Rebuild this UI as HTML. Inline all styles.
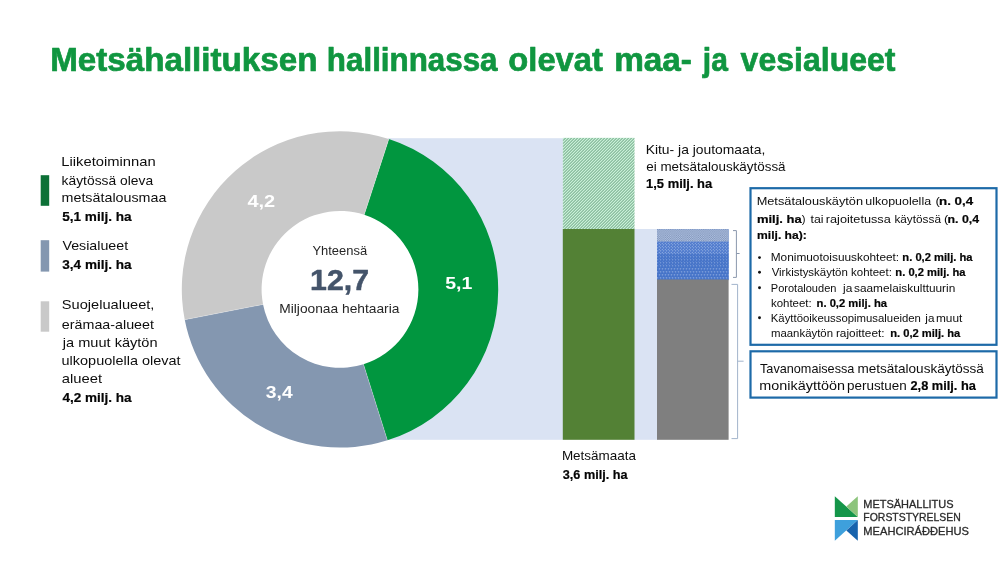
<!DOCTYPE html>
<html><head><meta charset="utf-8"><title>Metsähallitus</title>
<style>
html,body{margin:0;padding:0;background:#fff;}
body{width:1000px;height:563px;overflow:hidden;font-family:"Liberation Sans",sans-serif;}
svg{display:block;will-change:transform;opacity:0.999;font-family:"Liberation Sans",sans-serif;}
</style></head><body>
<svg width="1000" height="563" viewBox="0 0 1000 563">
<defs>
<pattern id="d1" width="2.2" height="2.2" patternUnits="userSpaceOnUse" x="657" y="229.2">
<rect width="2.2" height="2.2" fill="#b2c5e5"/><rect x="0" y="0" width="1.1" height="1.1" fill="#7f92b6"/><rect x="1.1" y="1.1" width="1.1" height="1.1" fill="#7f92b6"/>
</pattern>
<pattern id="d2" width="3" height="3" patternUnits="userSpaceOnUse" x="657" y="229.2">
<rect width="3" height="3" fill="#4a77cc"/><circle cx="0.75" cy="0.75" r="0.52" fill="#d4e0f7"/><circle cx="2.25" cy="2.25" r="0.52" fill="#d4e0f7"/>
</pattern>
<pattern id="d3" width="3" height="3" patternUnits="userSpaceOnUse" x="657" y="229.2">
<rect width="3" height="3" fill="#4573c8"/><circle cx="0.75" cy="0.75" r="0.48" fill="#d4e0f7"/><circle cx="2.25" cy="2.25" r="0.3" fill="#b5c9f0"/>
</pattern>
<pattern id="d4" width="3" height="6" patternUnits="userSpaceOnUse" x="657" y="229.2">
<rect width="3" height="6" fill="#4573c8"/><circle cx="0.75" cy="0.75" r="0.5" fill="#d4e0f7"/><circle cx="2.25" cy="3.75" r="0.5" fill="#d4e0f7"/><circle cx="2.25" cy="0.75" r="0.25" fill="#9db7ea"/><circle cx="0.75" cy="3.75" r="0.25" fill="#9db7ea"/>
</pattern>
</defs>
<rect width="1000" height="563" fill="#ffffff"/>
<rect x="388" y="138.2" width="175" height="301.6" fill="#dae3f3"/>
<rect x="634" y="229" width="23.5" height="210.8" fill="#dae3f3"/>
<clipPath id="hc"><rect x="562.8" y="137.8" width="71.7" height="91.4"/></clipPath>
<rect x="562.8" y="137.8" width="71.7" height="91.4" fill="#c9f0d8"/>
<path clip-path="url(#hc)" d="M562.80,137.80 L562.80,137.80 M562.80,140.80 L565.80,137.80 M562.80,143.80 L568.80,137.80 M562.80,146.80 L571.80,137.80 M562.80,149.80 L574.80,137.80 M562.80,152.80 L577.80,137.80 M562.80,155.80 L580.80,137.80 M562.80,158.80 L583.80,137.80 M562.80,161.80 L586.80,137.80 M562.80,164.80 L589.80,137.80 M562.80,167.80 L592.80,137.80 M562.80,170.80 L595.80,137.80 M562.80,173.80 L598.80,137.80 M562.80,176.80 L601.80,137.80 M562.80,179.80 L604.80,137.80 M562.80,182.80 L607.80,137.80 M562.80,185.80 L610.80,137.80 M562.80,188.80 L613.80,137.80 M562.80,191.80 L616.80,137.80 M562.80,194.80 L619.80,137.80 M562.80,197.80 L622.80,137.80 M562.80,200.80 L625.80,137.80 M562.80,203.80 L628.80,137.80 M562.80,206.80 L631.80,137.80 M562.80,209.80 L634.80,137.80 M562.80,212.80 L637.80,137.80 M562.80,215.80 L640.80,137.80 M562.80,218.80 L643.80,137.80 M562.80,221.80 L646.80,137.80 M562.80,224.80 L649.80,137.80 M562.80,227.80 L652.80,137.80 M562.80,230.80 L655.80,137.80 M562.80,233.80 L658.80,137.80 M562.80,236.80 L661.80,137.80 M562.80,239.80 L664.80,137.80 M562.80,242.80 L667.80,137.80 M562.80,245.80 L670.80,137.80 M562.80,248.80 L673.80,137.80 M562.80,251.80 L676.80,137.80 M562.80,254.80 L679.80,137.80 M562.80,257.80 L682.80,137.80 M562.80,260.80 L685.80,137.80 M562.80,263.80 L688.80,137.80 M562.80,266.80 L691.80,137.80 M562.80,269.80 L694.80,137.80 M562.80,272.80 L697.80,137.80 M562.80,275.80 L700.80,137.80 M562.80,278.80 L703.80,137.80 M562.80,281.80 L706.80,137.80 M562.80,284.80 L709.80,137.80 M562.80,287.80 L712.80,137.80 M562.80,290.80 L715.80,137.80 M562.80,293.80 L718.80,137.80 M562.80,296.80 L721.80,137.80 M562.80,299.80 L724.80,137.80 M562.80,302.80 L727.80,137.80" fill="none" stroke="#3f7f56" stroke-width="0.72"/>
<rect x="562.8" y="229" width="71.7" height="210.8" fill="#538135"/>
<rect x="657" y="229.2" width="71.6" height="51" fill="#4f7bcb"/>
<rect x="657" y="229.2" width="71.6" height="12.6" fill="url(#d1)"/>
<rect x="657" y="241.7" width="71.6" height="12.6" fill="url(#d2)"/>
<rect x="657" y="254.2" width="71.6" height="12.6" fill="url(#d3)"/>
<rect x="657" y="266.7" width="71.6" height="13.0" fill="url(#d4)"/>
<rect x="657" y="279.5" width="71.6" height="160.3" fill="#7f7f7f"/>
<circle cx="340.0" cy="289.4" r="78.9" fill="#ffffff"/>
<path d="M388.89,138.94 A158.2,158.2 0 0 1 387.40,440.33 L363.49,364.20 A78.4,78.4 0 0 0 364.23,214.84 Z" fill="#00963f"/>
<path d="M387.40,440.33 A158.2,158.2 0 0 1 184.74,319.74 L263.05,304.43 A78.4,78.4 0 0 0 363.49,364.20 Z" fill="#8497b0"/>
<path d="M184.74,319.74 A158.2,158.2 0 0 1 388.89,138.94 L364.23,214.84 A78.4,78.4 0 0 0 263.05,304.43 Z" fill="#c9c9c9"/>
<line x1="364.23" y1="214.84" x2="388.89" y2="138.94" stroke="#ffffff" stroke-width="0.7" stroke-opacity="0.35"/>
<line x1="363.49" y1="364.20" x2="387.40" y2="440.33" stroke="#ffffff" stroke-width="0.7" stroke-opacity="0.35"/>
<line x1="263.05" y1="304.43" x2="184.74" y2="319.74" stroke="#ffffff" stroke-width="0.7" stroke-opacity="0.35"/>
<rect x="40.7" y="175.2" width="8.5" height="30.6" fill="#0c7036"/>
<rect x="40.7" y="240.2" width="8.5" height="31.4" fill="#8497b0"/>
<rect x="40.7" y="301.3" width="8.5" height="30.4" fill="#c9c9c9"/>
<path d="M733,230.6 H736.4 V277.4 H733 M736.4,253.5 H739.6" fill="none" stroke="#8a97ad" stroke-width="1"/>
<path d="M731.5,284.4 H737.6 V438.6 H731.5 M737.6,361.2 H743.6" fill="none" stroke="#a3b4cc" stroke-width="1"/>
<rect x="750.5" y="188.2" width="246.0" height="156.6" fill="#ffffff" stroke="#1d6aa8" stroke-width="2.2"/>
<rect x="750.5" y="351.3" width="246.0" height="46.3" fill="#ffffff" stroke="#1d6aa8" stroke-width="2.2"/>
<polygon points="834.8,496.2 857.8,516.9 834.8,516.9" fill="#15964a"/>
<polygon points="857.8,496.2 857.8,516.9 846.3,506.5" fill="#8cc47c"/>
<polygon points="834.8,520 857.8,520 834.8,540.8" fill="#3ea0dc"/>
<polygon points="857.8,520 857.8,540.8 846.3,530.4" fill="#1763ad"/>
<circle cx="759.5" cy="257.6" r="1.45" fill="#111"/>
<circle cx="759.5" cy="272.3" r="1.45" fill="#111"/>
<circle cx="759.5" cy="287.7" r="1.45" fill="#111"/>
<circle cx="759.5" cy="317.8" r="1.45" fill="#111"/>
<g>
<text x="50.13" y="70.6" textLength="267.38" lengthAdjust="spacingAndGlyphs" font-size="33.2" font-weight="700" fill="#109640" stroke="#109640" stroke-width="0.7" stroke-linejoin="round">Metsähallituksen</text>
<text x="326.86" y="70.6" textLength="170.69" lengthAdjust="spacingAndGlyphs" font-size="33.2" font-weight="700" fill="#109640" stroke="#109640" stroke-width="0.7" stroke-linejoin="round">hallinnassa</text>
<text x="508.37" y="70.6" textLength="94.48" lengthAdjust="spacingAndGlyphs" font-size="33.2" font-weight="700" fill="#109640" stroke="#109640" stroke-width="0.7" stroke-linejoin="round">olevat</text>
<text x="614.15" y="70.6" textLength="77.83" lengthAdjust="spacingAndGlyphs" font-size="33.2" font-weight="700" fill="#109640" stroke="#109640" stroke-width="0.7" stroke-linejoin="round">maa-</text>
<text x="702.82" y="70.6" textLength="25.04" lengthAdjust="spacingAndGlyphs" font-size="33.2" font-weight="700" fill="#109640" stroke="#109640" stroke-width="0.7" stroke-linejoin="round">ja</text>
<text x="740.62" y="70.6" textLength="154.92" lengthAdjust="spacingAndGlyphs" font-size="33.2" font-weight="700" fill="#109640" stroke="#109640" stroke-width="0.7" stroke-linejoin="round">vesialueet</text>
<text x="61.29" y="165.8" textLength="94.37" lengthAdjust="spacingAndGlyphs" font-size="13.2" font-weight="400" fill="#0d0d0d">Liiketoiminnan</text>
<text x="61.57" y="184.5" textLength="91.53" lengthAdjust="spacingAndGlyphs" font-size="13.2" font-weight="400" fill="#0d0d0d">käytössä oleva</text>
<text x="61.55" y="202.1" textLength="104.85" lengthAdjust="spacingAndGlyphs" font-size="13.2" font-weight="400" fill="#0d0d0d">metsätalousmaa</text>
<text x="62.18" y="220.5" textLength="69.43" lengthAdjust="spacingAndGlyphs" font-size="13.2" font-weight="700" fill="#050505" stroke="#050505" stroke-width="0.2" stroke-linejoin="round">5,1 milj. ha</text>
<text x="62.44" y="249.8" textLength="65.66" lengthAdjust="spacingAndGlyphs" font-size="13.2" font-weight="400" fill="#0d0d0d">Vesialueet</text>
<text x="62.29" y="268.7" textLength="69.33" lengthAdjust="spacingAndGlyphs" font-size="13.2" font-weight="700" fill="#050505" stroke="#050505" stroke-width="0.2" stroke-linejoin="round">3,4 milj. ha</text>
<text x="61.84" y="309.3" textLength="92.58" lengthAdjust="spacingAndGlyphs" font-size="13.2" font-weight="400" fill="#0d0d0d">Suojelualueet,</text>
<text x="61.89" y="328.5" textLength="92.11" lengthAdjust="spacingAndGlyphs" font-size="13.2" font-weight="400" fill="#0d0d0d">erämaa-alueet</text>
<text x="62.86" y="346.6" textLength="94.69" lengthAdjust="spacingAndGlyphs" font-size="13.2" font-weight="400" fill="#0d0d0d">ja muut käytön</text>
<text x="61.56" y="365.3" textLength="119.05" lengthAdjust="spacingAndGlyphs" font-size="13.2" font-weight="400" fill="#0d0d0d">ulkopuolella olevat</text>
<text x="61.87" y="382.9" textLength="40.24" lengthAdjust="spacingAndGlyphs" font-size="13.2" font-weight="400" fill="#0d0d0d">alueet</text>
<text x="62.40" y="401.5" textLength="69.22" lengthAdjust="spacingAndGlyphs" font-size="13.2" font-weight="700" fill="#050505" stroke="#050505" stroke-width="0.2" stroke-linejoin="round">4,2 milj. ha</text>
<text x="247.40" y="207.2" textLength="27.80" lengthAdjust="spacingAndGlyphs" font-size="17.4" font-weight="700" fill="#ffffff">4,2</text>
<text x="445.20" y="289.4" textLength="27.14" lengthAdjust="spacingAndGlyphs" font-size="17.4" font-weight="700" fill="#ffffff">5,1</text>
<text x="265.86" y="398.4" textLength="26.85" lengthAdjust="spacingAndGlyphs" font-size="17.4" font-weight="700" fill="#ffffff">3,4</text>
<text x="312.42" y="254.9" textLength="54.68" lengthAdjust="spacingAndGlyphs" font-size="13.2" font-weight="400" fill="#262626">Yhteensä</text>
<text x="310.14" y="290.0" textLength="58.94" lengthAdjust="spacingAndGlyphs" font-size="29.8" font-weight="700" fill="#44546a" stroke="#44546a" stroke-width="0.5" stroke-linejoin="round">12,7</text>
<text x="279.27" y="312.6" textLength="120.13" lengthAdjust="spacingAndGlyphs" font-size="13.2" font-weight="400" fill="#262626">Miljoonaa hehtaaria</text>
<text x="645.66" y="154.0" textLength="119.59" lengthAdjust="spacingAndGlyphs" font-size="13.2" font-weight="400" fill="#0d0d0d">Kitu- ja joutomaata,</text>
<text x="646.23" y="171.1" textLength="139.37" lengthAdjust="spacingAndGlyphs" font-size="13.2" font-weight="400" fill="#0d0d0d">ei metsätalouskäytössä</text>
<text x="646.09" y="188.2" textLength="66.13" lengthAdjust="spacingAndGlyphs" font-size="13.2" font-weight="700" fill="#050505" stroke="#050505" stroke-width="0.2" stroke-linejoin="round">1,5 milj. ha</text>
<text x="561.90" y="460.2" textLength="74.10" lengthAdjust="spacingAndGlyphs" font-size="13.2" font-weight="400" fill="#0d0d0d">Metsämaata</text>
<text x="562.81" y="478.6" textLength="64.81" lengthAdjust="spacingAndGlyphs" font-size="13.2" font-weight="700" fill="#050505" stroke="#050505" stroke-width="0.2" stroke-linejoin="round">3,6 milj. ha</text>
<text x="756.65" y="205.2" textLength="106.38" lengthAdjust="spacingAndGlyphs" font-size="11.5" font-weight="400" fill="#0d0d0d">Metsätalouskäytön</text>
<text x="865.29" y="205.2" textLength="65.81" lengthAdjust="spacingAndGlyphs" font-size="11.5" font-weight="400" fill="#0d0d0d">ulkopuolella</text>
<text x="935.48" y="205.2" textLength="4.40" lengthAdjust="spacingAndGlyphs" font-size="11.5" font-weight="400" fill="#0d0d0d">(</text>
<text x="939.02" y="205.2" textLength="34.15" lengthAdjust="spacingAndGlyphs" font-size="11.5" font-weight="700" fill="#050505" stroke="#050505" stroke-width="0.2" stroke-linejoin="round">n. 0,4</text>
<text x="756.94" y="222.9" textLength="44.77" lengthAdjust="spacingAndGlyphs" font-size="11.5" font-weight="700" fill="#050505" stroke="#050505" stroke-width="0.2" stroke-linejoin="round">milj. ha</text>
<text x="801.83" y="222.9" textLength="3.77" lengthAdjust="spacingAndGlyphs" font-size="11.5" font-weight="400" fill="#0d0d0d">)</text>
<text x="810.51" y="222.9" textLength="13.02" lengthAdjust="spacingAndGlyphs" font-size="11.5" font-weight="400" fill="#0d0d0d">tai</text>
<text x="825.76" y="222.9" textLength="65.04" lengthAdjust="spacingAndGlyphs" font-size="11.5" font-weight="400" fill="#0d0d0d">rajoitetussa</text>
<text x="894.40" y="222.9" textLength="46.60" lengthAdjust="spacingAndGlyphs" font-size="11.5" font-weight="400" fill="#0d0d0d">käytössä</text>
<text x="944.10" y="222.9" textLength="4.27" lengthAdjust="spacingAndGlyphs" font-size="11.5" font-weight="400" fill="#0d0d0d">(</text>
<text x="947.59" y="222.9" textLength="31.58" lengthAdjust="spacingAndGlyphs" font-size="11.5" font-weight="700" fill="#050505" stroke="#050505" stroke-width="0.2" stroke-linejoin="round">n. 0,4</text>
<text x="757.05" y="239.3" textLength="49.74" lengthAdjust="spacingAndGlyphs" font-size="11.5" font-weight="700" fill="#050505" stroke="#050505" stroke-width="0.2" stroke-linejoin="round">milj.  ha):</text>
<text x="770.73" y="261.4" textLength="128.45" lengthAdjust="spacingAndGlyphs" font-size="10.3" font-weight="400" fill="#0d0d0d">Monimuotoisuuskohteet:</text>
<text x="902.36" y="261.4" textLength="70.17" lengthAdjust="spacingAndGlyphs" font-size="10.3" font-weight="700" fill="#050505" stroke="#050505" stroke-width="0.2" stroke-linejoin="round">n. 0,2 milj. ha</text>
<text x="771.65" y="276.2" textLength="120.20" lengthAdjust="spacingAndGlyphs" font-size="10.3" font-weight="400" fill="#0d0d0d">Virkistyskäytön kohteet:</text>
<text x="895.36" y="276.2" textLength="70.17" lengthAdjust="spacingAndGlyphs" font-size="10.3" font-weight="700" fill="#050505" stroke="#050505" stroke-width="0.2" stroke-linejoin="round">n. 0,2 milj. ha</text>
<text x="770.80" y="292.1" textLength="65.62" lengthAdjust="spacingAndGlyphs" font-size="10.3" font-weight="400" fill="#0d0d0d">Porotalouden</text>
<text x="842.99" y="292.1" textLength="9.31" lengthAdjust="spacingAndGlyphs" font-size="10.3" font-weight="400" fill="#0d0d0d">ja</text>
<text x="854.07" y="292.1" textLength="101.20" lengthAdjust="spacingAndGlyphs" font-size="10.3" font-weight="400" fill="#0d0d0d">saamelaiskulttuurin</text>
<text x="770.93" y="307.0" textLength="40.82" lengthAdjust="spacingAndGlyphs" font-size="10.3" font-weight="400" fill="#0d0d0d">kohteet:</text>
<text x="816.56" y="307.0" textLength="70.47" lengthAdjust="spacingAndGlyphs" font-size="10.3" font-weight="700" fill="#050505" stroke="#050505" stroke-width="0.2" stroke-linejoin="round">n. 0,2 milj. ha</text>
<text x="770.77" y="322.1" textLength="150.17" lengthAdjust="spacingAndGlyphs" font-size="10.3" font-weight="400" fill="#0d0d0d">Käyttöoikeussopimusalueiden</text>
<text x="925.39" y="322.1" textLength="9.11" lengthAdjust="spacingAndGlyphs" font-size="10.3" font-weight="400" fill="#0d0d0d">ja</text>
<text x="936.01" y="322.1" textLength="26.37" lengthAdjust="spacingAndGlyphs" font-size="10.3" font-weight="400" fill="#0d0d0d">muut</text>
<text x="770.94" y="336.7" textLength="62.10" lengthAdjust="spacingAndGlyphs" font-size="10.3" font-weight="400" fill="#0d0d0d">maankäytön</text>
<text x="835.91" y="336.7" textLength="48.67" lengthAdjust="spacingAndGlyphs" font-size="10.3" font-weight="400" fill="#0d0d0d">rajoitteet:</text>
<text x="890.16" y="336.7" textLength="70.17" lengthAdjust="spacingAndGlyphs" font-size="10.3" font-weight="700" fill="#050505" stroke="#050505" stroke-width="0.2" stroke-linejoin="round">n. 0,2 milj. ha</text>
<text x="760.02" y="373.1" textLength="94.38" lengthAdjust="spacingAndGlyphs" font-size="12.4" font-weight="400" fill="#0d0d0d">Tavanomaisessa</text>
<text x="857.40" y="373.1" textLength="126.50" lengthAdjust="spacingAndGlyphs" font-size="12.4" font-weight="400" fill="#0d0d0d">metsätalouskäytössä</text>
<text x="759.34" y="389.7" textLength="85.59" lengthAdjust="spacingAndGlyphs" font-size="12.4" font-weight="400" fill="#0d0d0d">monikäyttöön</text>
<text x="847.03" y="389.7" textLength="59.74" lengthAdjust="spacingAndGlyphs" font-size="12.4" font-weight="400" fill="#0d0d0d">perustuen</text>
<text x="910.46" y="389.7" textLength="65.46" lengthAdjust="spacingAndGlyphs" font-size="12.4" font-weight="700" fill="#050505" stroke="#050505" stroke-width="0.2" stroke-linejoin="round">2,8 milj. ha</text>
<text x="863.35" y="507.5" textLength="90.20" lengthAdjust="spacingAndGlyphs" font-size="10.4" font-weight="400" fill="#2b2b2b" stroke="#2b2b2b" stroke-width="0.3" stroke-linejoin="round">METSÄHALLITUS</text>
<text x="863.39" y="521.1" textLength="97.31" lengthAdjust="spacingAndGlyphs" font-size="10.4" font-weight="400" fill="#2b2b2b" stroke="#2b2b2b" stroke-width="0.3" stroke-linejoin="round">FORSTSTYRELSEN</text>
<text x="863.34" y="534.6" textLength="105.52" lengthAdjust="spacingAndGlyphs" font-size="10.4" font-weight="400" fill="#2b2b2b" stroke="#2b2b2b" stroke-width="0.3" stroke-linejoin="round">MEAHCIRÁĐĐEHUS</text>
</g>
</svg>
</body></html>
